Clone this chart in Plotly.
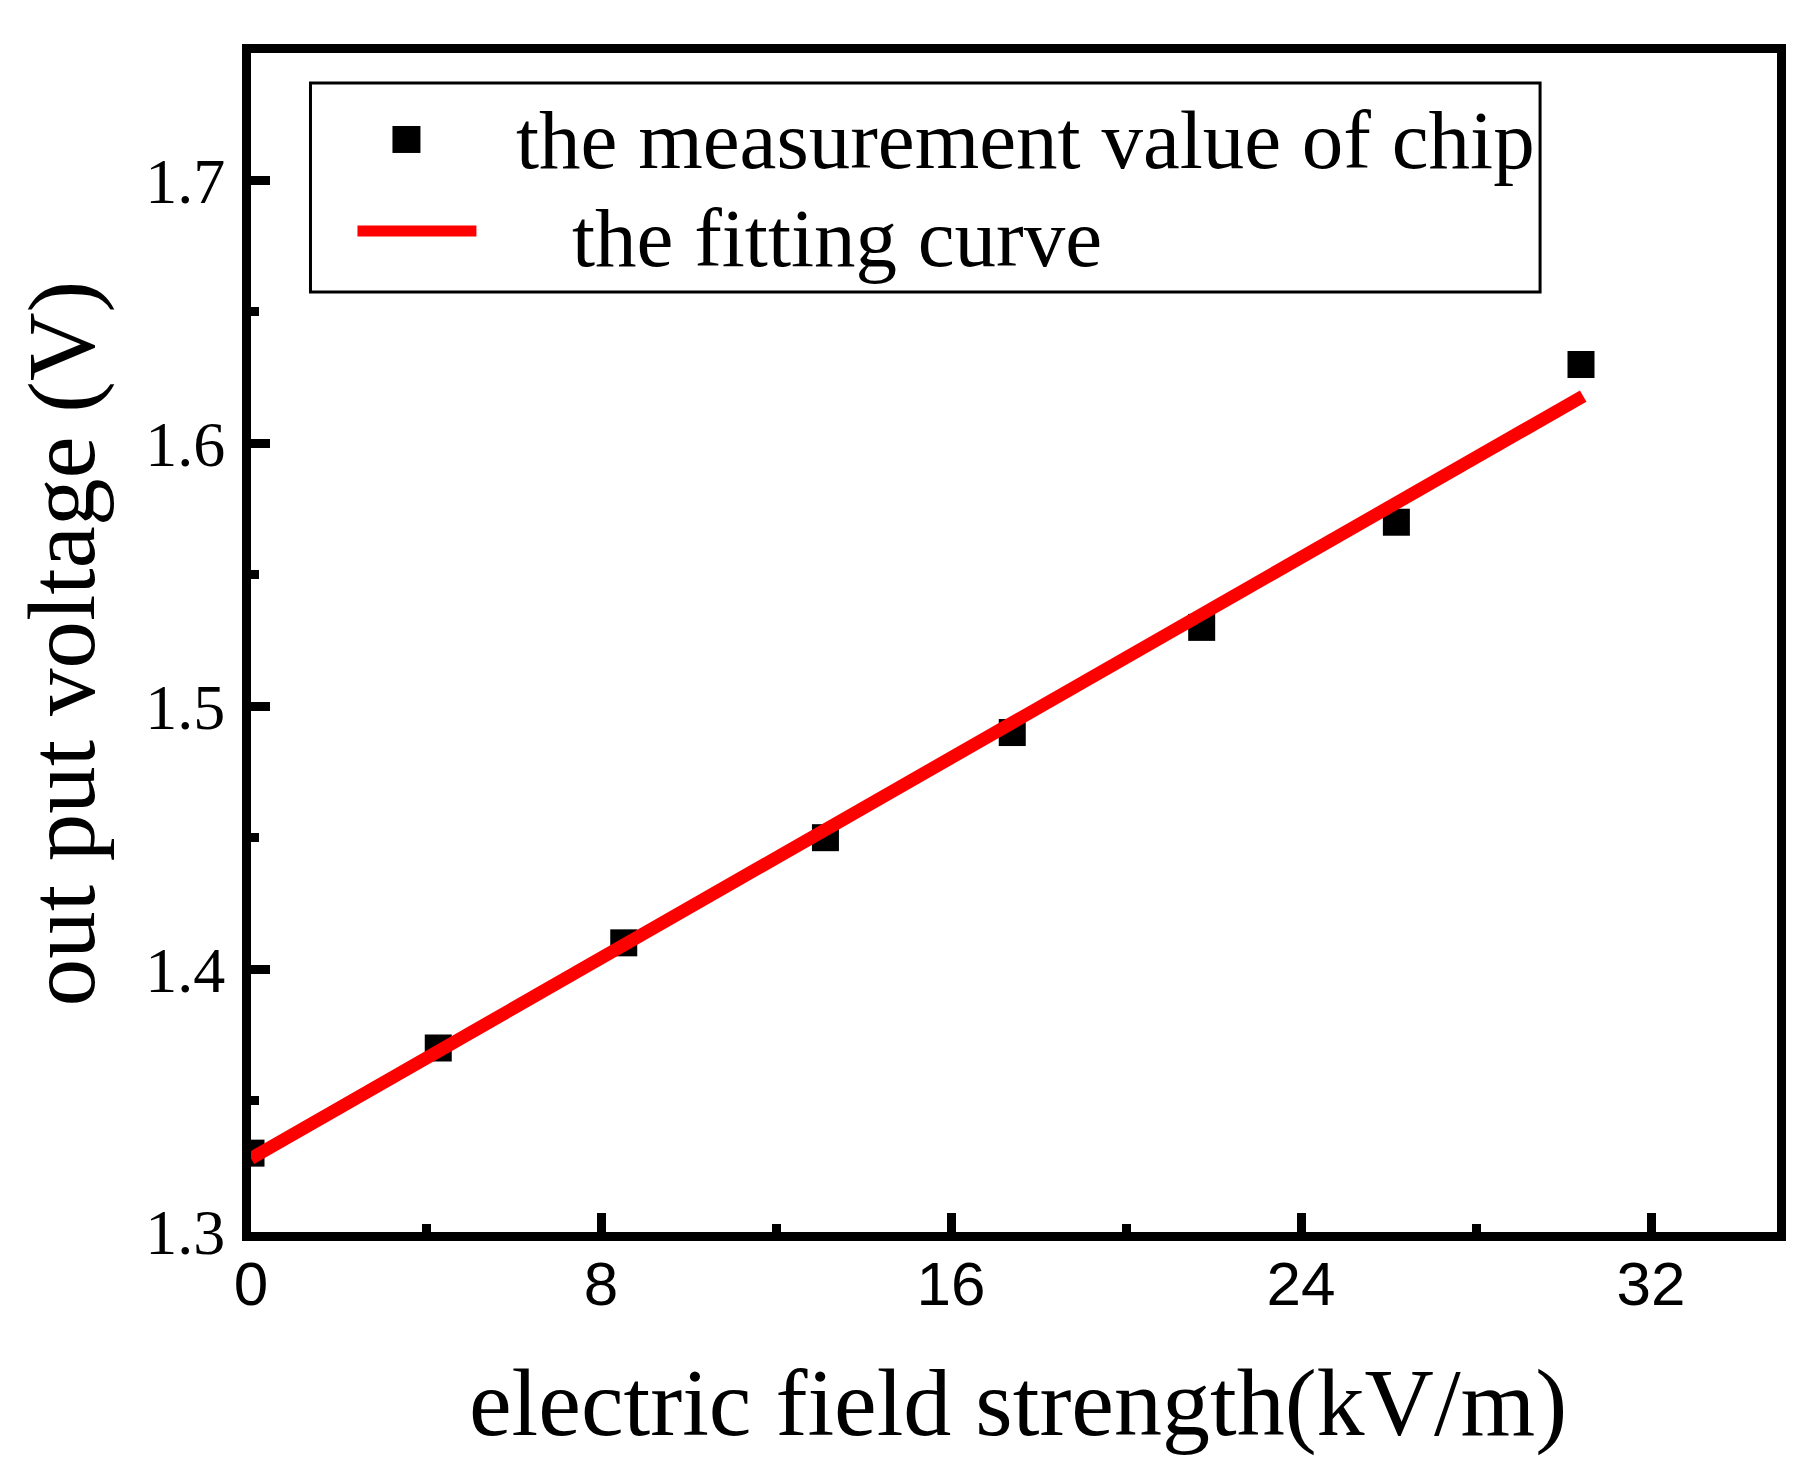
import plotly.graph_objects as go

field_kv = [0.0, 4.28, 8.52, 13.13, 17.40, 21.73, 26.18, 30.40]
voltage = [1.33, 1.37, 1.41, 1.45, 1.49, 1.53, 1.57, 1.63]

# fitted straight line (end points)
fit_x = [0.0, 30.45]
fit_y = [1.328, 1.618]

x_ticks = [0, 8, 16, 24, 32]
y_ticks = [1.3, 1.4, 1.5, 1.6, 1.7]
y_tick_text = ["1.3", "1.4", "1.5", "1.6", "1.7"]

legend_names = ["the measurement value of chip", "the fitting curve"]
x_title = "electric field strength(kV/m)"
y_title = "out put voltage (V)"

W, H = 1808, 1470
# inner edges of the frame in pixels (plotly draws the frame outside)
L, R, T, B = 250.5, 1777, 53, 1232.5


def px(x):
    return (x - L) / (R - L)


def py(y):
    return (B - y) / (B - T)


serif = "Liberation Serif, Times New Roman, serif"
sans = "Liberation Sans, Arial, sans-serif"

fig = go.Figure()

fig.add_trace(go.Scatter(
    x=field_kv, y=voltage,
    mode="markers",
    marker=dict(symbol="square", size=27, color="black", line=dict(width=0)),
    name=legend_names[0],
    showlegend=False,
))

fig.add_trace(go.Scatter(
    x=fit_x, y=fit_y,
    mode="lines",
    line=dict(color="#ff0000", width=13),
    name=legend_names[1],
    showlegend=False,
))

# hand drawn legend, so the symbols keep the original sizes
shapes = [
    dict(type="rect", xref="paper", yref="paper",
         x0=px(310), x1=px(1540), y0=py(292), y1=py(83),
         line=dict(color="black", width=3), fillcolor="rgba(0,0,0,0)"),
    dict(type="rect", xref="paper", yref="paper",
         x0=px(392), x1=px(420), y0=py(153), y1=py(126),
         line=dict(width=0), fillcolor="black"),
    dict(type="line", xref="paper", yref="paper",
         x0=px(357), x1=px(476), y0=py(231), y1=py(231),
         line=dict(color="#ff0000", width=11)),
]

annotations = [
    dict(text=legend_names[0], xref="paper", yref="paper",
         x=px(514), y=py(140), xanchor="left", yanchor="middle",
         showarrow=False, font=dict(family=serif, size=83, color="black")),
    dict(text=legend_names[1], xref="paper", yref="paper",
         x=px(570), y=py(238), xanchor="left", yanchor="middle",
         showarrow=False, font=dict(family=serif, size=83, color="black")),
    # axis titles
    dict(text=x_title, xref="paper", yref="paper",
         x=px(1018), y=py(1403), xanchor="center", yanchor="middle",
         showarrow=False, font=dict(family=serif, size=96, color="black")),
    dict(text=y_title, xref="paper", yref="paper", textangle=-90,
         x=px(61), y=py(644), xanchor="center", yanchor="middle",
         showarrow=False, font=dict(family=serif, size=95, color="black")),
]

fig.update_layout(
    width=W, height=H,
    margin=dict(l=L, r=W - R, t=T, b=H - B),
    paper_bgcolor="white",
    plot_bgcolor="white",
    showlegend=False,
    shapes=shapes,
    annotations=annotations,
)

fig.update_xaxes(
    range=[0, 34.88],
    tickvals=x_ticks,
    ticks="inside", ticklen=19, tickwidth=9, tickcolor="black",
    minor=dict(dtick=4, ticks="inside", ticklen=8, tickwidth=9, tickcolor="black"),
    showline=True, linewidth=9, linecolor="black", mirror=True,
    showgrid=False, zeroline=False,
    tickfont=dict(family=sans, size=62, color="black"),
    ticklabelstandoff=-10,
)

fig.update_yaxes(
    range=[1.3, 1.7485],
    tickvals=y_ticks, ticktext=y_tick_text,
    ticks="inside", ticklen=19, tickwidth=9, tickcolor="black",
    minor=dict(dtick=0.05, ticks="inside", ticklen=8, tickwidth=9, tickcolor="black"),
    showline=True, linewidth=9, linecolor="black", mirror=True,
    showgrid=False, zeroline=False,
    tickfont=dict(family=serif, size=64, color="black"),
    ticklabelstandoff=4,
)

# drop the default 8px body margin so the figure fills the window exactly
fig.write_html("out.html", config={"displayModeBar": False},
               post_script="document.body.style.margin='0';")
